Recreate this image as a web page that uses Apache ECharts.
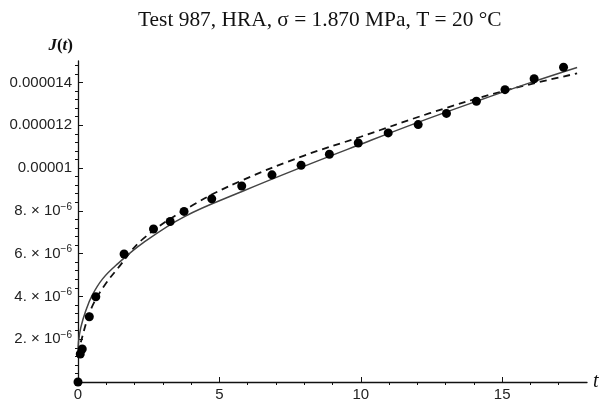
<!DOCTYPE html>
<html>
<head>
<meta charset="utf-8">
<script src="https://cdn.jsdelivr.net/npm/echarts@6/dist/echarts.min.js"></script>
<style>
  html, body { margin: 0; background: #fff; }
  #chart { width: 602px; height: 403px; }
</style>
</head>
<body>
<div id="chart"></div>
<script>
// creep compliance J(t), values in units of 1e-6 1/MPa
const measuredT = [0, 0.08, 0.15, 0.40, 0.63, 1.63, 2.67, 3.26, 3.75, 4.73, 5.79, 6.86, 7.89, 8.89, 9.91, 10.97, 12.03, 13.03, 14.09, 15.10, 16.13, 17.17]
const measuredJ = [0, 1.31, 1.54, 3.05, 3.98, 5.98, 7.15, 7.50, 7.97, 8.56, 9.16, 9.68, 10.13, 10.64, 11.17, 11.64, 12.03, 12.55, 13.12, 13.66, 14.17, 14.71]

// fitted model (solid)
const solidT = [0, 0.02, 0.1, 0.28, 0.5, 0.87, 1.4, 2.3, 3.75, 5.8, 7.9, 9.9, 12.0, 14.1, 16.0, 17.65]
const solidJ = [1.4, 1.9, 2.55, 3.35, 4.05, 4.82, 5.52, 6.5, 7.72, 8.9, 10.03, 11.06, 12.12, 13.12, 13.99, 14.7]

// second model (dashed)
const dashT = [0, 0.08, 0.16, 0.34, 0.57, 0.93, 1.4, 2.31, 4.08, 5.73, 8.0, 10.0, 12.44, 15.0, 17.65]
const dashJ = [1.3, 1.75, 2.15, 2.97, 3.72, 4.5, 5.3, 6.7, 8.28, 9.38, 10.58, 11.46, 12.56, 13.58, 14.42]

const xMajorTicks = [0, 5, 10, 15]
const xMinorTicks = [1, 2, 3, 4, 6, 7, 8, 9, 11, 12, 13, 14, 16, 17]
const yMajorTicks = [2, 4, 6, 8, 10, 12, 14]
const yTickLabels = [
  '{b|2. × 10}{s|−6}',
  '{b|4. × 10}{s|−6}',
  '{b|6. × 10}{s|−6}',
  '{b|8. × 10}{s|−6}',
  '{b|0.00001}',
  '{b|0.000012}',
  '{b|0.000014}'
]

const pairs = (xs, ys) => xs.map((x, i) => [x, ys[i]])

const yMinorTicks = []
for (let i = 1; i < 38; i++) {
  if (i % 5 !== 0) yMinorTicks.push(Math.round(i * 4) / 10)
}

const chart = echarts.init(document.getElementById('chart'))

const axisColor = '#111'
const labelFont = { color: '#222', fontFamily: 'Liberation Sans', fontSize: 15 }

chart.setOption({
  animation: false,
  title: {
    text: 'Test 987, HRA, σ = 1.870 MPa, T = 20 °C',
    left: 133,
    top: 5,
    textStyle: { fontFamily: 'Liberation Serif', fontWeight: 'normal', fontSize: 21.4, color: '#111' }
  },
  grid: { left: 78, right: 15, top: 61, bottom: 21 },
  xAxis: [
    {
      type: 'value', min: 0, max: 18,
      axisLine: { lineStyle: { color: axisColor, width: 1.3 } },
      axisTick: { inside: true, length: 5, customValues: xMajorTicks, lineStyle: { color: axisColor } },
      axisLabel: Object.assign({ customValues: xMajorTicks, margin: 5 }, labelFont),
      splitLine: { show: false },
      name: 't', nameLocation: 'end', nameGap: 6,
      nameTextStyle: { fontFamily: 'Liberation Serif', fontStyle: 'italic', fontSize: 20, color: '#111', verticalAlign: 'middle' }
    },
    {
      type: 'value', min: 0, max: 18,
      axisLine: { show: false },
      axisTick: { inside: true, length: 3, customValues: xMinorTicks, lineStyle: { color: axisColor } },
      axisLabel: { show: false },
      splitLine: { show: false }
    }
  ],
  yAxis: [
    {
      type: 'value', min: 0, max: 15,
      axisLine: { lineStyle: { color: axisColor, width: 1.3 } },
      axisTick: { inside: true, length: 5, customValues: yMajorTicks, lineStyle: { color: axisColor } },
      axisLabel: {
        customValues: yMajorTicks,
        margin: 6,
        formatter: (v) => yTickLabels[yMajorTicks.indexOf(Math.round(v))] || '',
        rich: {
          b: { color: '#222', fontFamily: 'Liberation Sans', fontSize: 15, lineHeight: 18 },
          s: { color: '#222', fontFamily: 'Liberation Sans', fontSize: 10, verticalAlign: 'top', lineHeight: 18 }
        }
      },
      splitLine: { show: false },
      name: '{i|J}{n|(}{i|t}{n|)}', nameLocation: 'end', nameGap: 7,
      nameTextStyle: {
        align: 'right', padding: [0, 5, 0, 0],
        rich: {
          i: { fontFamily: 'Liberation Serif', fontStyle: 'italic', fontWeight: 'bold', fontSize: 17, color: '#111' },
          n: { fontFamily: 'Liberation Serif', fontWeight: 'bold', fontSize: 17, color: '#111' }
        }
      }
    },
    {
      type: 'value', min: 0, max: 15,
      axisLine: { show: false },
      axisTick: { inside: true, length: 3, customValues: yMinorTicks, lineStyle: { color: axisColor } },
      axisLabel: { show: false },
      splitLine: { show: false }
    }
  ],
  series: [
    {
      type: 'line', data: pairs(dashT, dashJ), smooth: 0.4,
      showSymbol: false, lineStyle: { color: '#111', width: 1.8, type: [7, 5] }, z: 2
    },
    {
      type: 'line', data: pairs(solidT, solidJ), smooth: 0.4,
      showSymbol: false, lineStyle: { color: '#444', width: 1.5 }, z: 3
    },
    {
      type: 'scatter', data: pairs(measuredT, measuredJ), symbolSize: 9,
      itemStyle: { color: '#000', opacity: 1 }, z: 4
    }
  ]
})
</script>
</body>
</html>
